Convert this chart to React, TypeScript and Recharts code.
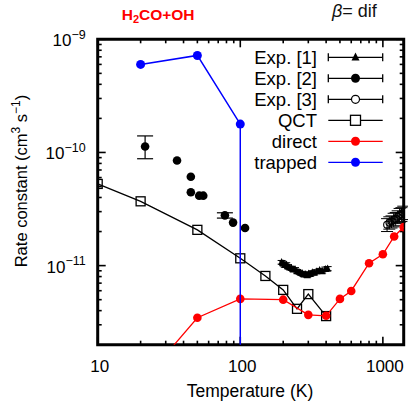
import React from 'react'
import { ComposedChart, Scatter, XAxis, YAxis, ErrorBar, Customized, ReferenceArea, ReferenceDot } from 'recharts'

// Exp. [1] (filled triangles)
const exp1T = [195, 200, 205, 210, 216, 222, 228, 235, 242, 250, 258, 265, 272, 280, 288, 295, 302, 310, 320, 330, 345, 360, 375, 395, 410]
const exp1K = [1.07e-11, 1.04e-11, 1.01e-11, 1.02e-11, 9.8e-12, 9.6e-12, 9.5e-12, 9.2e-12, 9.3e-12, 8.9e-12, 8.8e-12, 8.6e-12, 8.5e-12, 8.3e-12, 8.4e-12, 8.2e-12, 8.5e-12, 8.4e-12, 8.7e-12, 8.6e-12, 8.9e-12, 9.1e-12, 8.9e-12, 9.3e-12, 9.4e-12]
const exp1Err = [4e-13, 4e-13, 4e-13, 4e-13, 4e-13, 3e-13, 3e-13, 3e-13, 3e-13, 3e-13, 3e-13, 3e-13, 3e-13, 3e-13, 3e-13, 3e-13, 3e-13, 3e-13, 3e-13, 3e-13, 3e-13, 3e-13, 3e-13, 4e-13, 4e-13]

// Exp. [2] (filled circles)
const exp2T = [21.5, 36, 45, 45, 51.5, 55, 78, 89, 108]
const exp2K = [1.13e-10, 8.5e-11, 6.1e-11, 4.45e-11, 4.15e-11, 4.15e-11, 2.78e-11, 2.4e-11, 2.15e-11]
const exp2Err = [[2.5e-11, 2.7e-11], 0, 0, 0, 0, 0, [1.5e-12, 1.5e-12], 0, 0]

// Exp. [3] (open circles)
const exp3T = [1070, 1110, 1150, 1190, 1230, 1270, 1310, 1350, 1390]
const exp3K = [2.3e-11, 2.4e-11, 2.45e-11, 2.55e-11, 2.6e-11, 2.7e-11, 2.8e-11, 2.85e-11, 2.95e-11]
const exp3Err = [3e-12, 3e-12, 3e-12, 3.5e-12, 3.5e-12, 3.5e-12, 4e-12, 4e-12, 4e-12]

// QCT (open squares)
const qctT = [10, 20, 50, 100, 150, 200, 250, 300, 400]
const qctK = [5.27e-11, 3.7e-11, 2.07e-11, 1.16e-11, 8.1e-12, 6.1e-12, 4.15e-12, 5.6e-12, 3.58e-12]

// direct (red)
const directT = [20, 50, 100, 200, 300, 400, 500, 600, 800, 1000, 1200, 1400]
const directK = [9e-13, 3.46e-12, 5.08e-12, 5.0e-12, 3.67e-12, 3.6e-12, 5.08e-12, 5.97e-12, 1.05e-11, 1.26e-11, 1.81e-11, 2.19e-11]

// trapped (blue)
const trappedT = [20, 50, 100, 100]
const trappedK = [6.0e-10, 7.2e-10, 1.78e-10, 1e-13]

// axes
const X_DOMAIN = [10, 1400]
const Y_DOMAIN = [2e-12, 1e-9]
const xMajor = [10, 100, 1000]
const xMinor = [20, 30, 40, 50, 60, 70, 80, 90, 200, 300, 400, 500, 600, 700, 800, 900]
const xTickLabels = ['10', '100', '1000']
const yMajor = [1e-11, 1e-10, 1e-9]
const yMinor = [3e-12, 4e-12, 5e-12, 6e-12, 7e-12, 8e-12, 9e-12, 2e-11, 3e-11, 4e-11, 5e-11, 6e-11, 7e-11, 8e-11, 9e-11, 2e-10, 3e-10, 4e-10, 5e-10, 6e-10, 7e-10, 8e-10, 9e-10]
const yExpLabels = ['\u221211', '\u221210', '\u22129']

const legendNames = ['Exp. [1]', 'Exp. [2]', 'Exp. [3]', 'QCT', 'direct', 'trapped']

const FONT = '"Liberation Sans", Arial, Helvetica, sans-serif'

const exp1 = exp1T.map((T, i) => ({ T, k: exp1K[i], err: exp1Err[i] }))
const exp2 = exp2T.map((T, i) => ({ T, k: exp2K[i], err: exp2Err[i] }))
const exp3 = exp3T.map((T, i) => ({ T, k: exp3K[i], err: exp3Err[i] }))
const qct = qctT.map((T, i) => ({ T, k: qctK[i] }))
const direct = directT.map((T, i) => ({ T, k: directK[i] }))
const trapped = trappedT.map((T, i) => ({ T, k: trappedK[i] }))

const tri = (cx: number, cy: number, s: number) =>
  `${cx},${cy - s * 0.6} ${cx - s / 2},${cy + s * 0.4} ${cx + s / 2},${cy + s * 0.4}`

const Triangle = (p: any) => <polygon points={tri(p.cx, p.cy, 7)} fill="#000" />
const Dot = (p: any) => <circle cx={p.cx} cy={p.cy} r={4.3} fill="#000" />
const OpenDot = (p: any) => <circle cx={p.cx} cy={p.cy} r={3.4} fill="none" stroke="#000" strokeWidth={1.1} />
const Square = (p: any) => <rect x={p.cx - 4.5} y={p.cy - 4.5} width={9} height={9} fill="none" stroke="#000" strokeWidth={1.3} />
const RedDot = (p: any) => <circle cx={p.cx} cy={p.cy} r={4.3} fill="#f00" />
const BlueDot = (p: any) => <circle cx={p.cx} cy={p.cy} r={4.5} fill="#00f" />

// inward tick marks, drawn at positions from the chart's own scales
const tickMark = (dx: number, dy: number) => (p: any) => (
  <line x1={p.cx} y1={p.cy} x2={p.cx + dx} y2={p.cy + dy} stroke="#000" strokeWidth={1.6} />
)

const BottomLabel = (p: any) => {
  const i = xMajor.indexOf(p.payload.value)
  return (
    <text x={p.x + 2} y={p.y + 27.6} textAnchor="middle" fontSize={17} fontFamily={FONT} fill="#000">
      {xTickLabels[i]}
    </text>
  )
}

const LeftLabel = (p: any) => {
  const i = yMajor.indexOf(p.payload.value)
  return (
    <text x={p.x - 12} y={p.y + 7} textAnchor="end" fontSize={17} fontFamily={FONT} fill="#000">
      <tspan>10</tspan>
      <tspan dy={-7.5} fontSize={12.5}>{yExpLabels[i]}</tspan>
    </text>
  )
}

const legendMarker = (i: number, cx: number, cy: number) => {
  if (i === 0) return <polygon points={tri(cx, cy, 8)} fill="#000" />
  if (i === 1) return <circle cx={cx} cy={cy} r={4.5} fill="#000" />
  if (i === 2) return <circle cx={cx} cy={cy} r={4} fill="#fff" stroke="#000" strokeWidth={1.2} />
  if (i === 3) return <rect x={cx - 5} y={cy - 5} width={10} height={10} fill="#fff" stroke="#000" strokeWidth={1.3} />
  if (i === 4) return <circle cx={cx} cy={cy} r={4.5} fill="#f00" />
  return <circle cx={cx} cy={cy} r={4.5} fill="#00f" />
}

const legendColors = ['#000', '#000', '#000', '#000', '#f00', '#00f']

const Overlay = () => (
  <g fontFamily={FONT}>
    <text x={121.7} y={20} fill="#f00" fontWeight="bold" fontSize={15.5}>
      H<tspan fontSize={11} dy={3}>2</tspan>
      <tspan dy={-3}>CO+OH</tspan>
    </text>
    <text x={332} y={17} fontSize={18} fill="#111">
      <tspan fontStyle="italic">β</tspan>= dif
    </text>
    <text x={250} y={396.7} textAnchor="middle" fontSize={17.5} fill="#000">
      Temperature (K)
    </text>
    <text x={27} y={181} transform="rotate(-90, 27, 181)" textAnchor="middle" fontSize={16.5} fill="#000">
      Rate constant (cm<tspan dy={-7} fontSize={12}>3</tspan>
      <tspan dy={7}> s</tspan>
      <tspan dy={-7} fontSize={12}>{'\u22121'}</tspan>
      <tspan dy={7}>)</tspan>
    </text>
    {legendNames.map((name, i) => {
      const y = 57.3 + i * 21
      return (
        <g key={name}>
          <text x={317} y={y + 6.8} textAnchor="end" fontSize={18.5} fill="#000">
            {name}
          </text>
          <line x1={328.3} x2={382.7} y1={y} y2={y} stroke={legendColors[i]} strokeWidth={1.3} />
          {i < 3 && (
            <>
              <line x1={328.3} x2={328.3} y1={y - 4} y2={y + 4} stroke="#000" strokeWidth={1.3} />
              <line x1={382.7} x2={382.7} y1={y - 4} y2={y + 4} stroke="#000" strokeWidth={1.3} />
            </>
          )}
          {legendMarker(i, 355.5, y)}
        </g>
      )
    })}
  </g>
)

const axisIds = { xAxisId: 'b', yAxisId: 'l' }

export default function App() {
  const xTickMarks = [...xMajor.map((v) => [v, 8]), ...xMinor.map((v) => [v, 4])]
  const yTickMarks = [...yMajor.map((v) => [v, 8]), ...yMinor.map((v) => [v, 4])]
  return (
    <div style={{ position: 'absolute', left: 0, top: 0, width: 408, height: 403, background: '#fff' }}>
      <ComposedChart width={408} height={403} margin={{ top: 39.3, right: 4.3, bottom: 0, left: 0 }}>
        <XAxis
          xAxisId="b"
          dataKey="T"
          type="number"
          scale="log"
          domain={X_DOMAIN}
          allowDataOverflow
          ticks={xMajor}
          interval={0}
          tick={BottomLabel}
          tickLine={false}
          tickSize={0}
          tickMargin={0}
          height={58.3}
          axisLine={false}
        />
        <YAxis
          yAxisId="l"
          dataKey="k"
          type="number"
          scale="log"
          domain={Y_DOMAIN}
          allowDataOverflow
          ticks={yMajor}
          interval={0}
          tick={LeftLabel}
          tickLine={false}
          tickSize={0}
          tickMargin={0}
          width={97.7}
          axisLine={false}
        />
        {xTickMarks.map(([v, len]) => (
          <ReferenceDot key={`xb${v}`} {...axisIds} x={v} y={Y_DOMAIN[0]} ifOverflow="visible" shape={tickMark(0, -len)} />
        ))}
        {xTickMarks.map(([v, len]) => (
          <ReferenceDot key={`xt${v}`} {...axisIds} x={v} y={Y_DOMAIN[1]} ifOverflow="visible" shape={tickMark(0, len)} />
        ))}
        {yTickMarks.map(([v, len]) => (
          <ReferenceDot key={`yl${v}`} {...axisIds} x={X_DOMAIN[0]} y={v} ifOverflow="visible" shape={tickMark(len, 0)} />
        ))}
        {yTickMarks.map(([v, len]) => (
          <ReferenceDot key={`yr${v}`} {...axisIds} x={X_DOMAIN[1]} y={v} ifOverflow="visible" shape={tickMark(-len, 0)} />
        ))}
        <Scatter {...axisIds} data={exp1} shape={Triangle} isAnimationActive={false}>
          <ErrorBar dataKey="err" direction="y" width={4} stroke="#000" strokeWidth={1} isAnimationActive={false} />
        </Scatter>
        <Scatter {...axisIds} data={exp2} shape={Dot} isAnimationActive={false}>
          <ErrorBar dataKey="err" direction="y" width={8} stroke="#000" strokeWidth={1.2} isAnimationActive={false} />
        </Scatter>
        <Scatter {...axisIds} data={exp3} shape={OpenDot} isAnimationActive={false}>
          <ErrorBar dataKey="err" direction="y" width={6} stroke="#000" strokeWidth={1} isAnimationActive={false} />
        </Scatter>
        <Scatter {...axisIds} data={qct} shape={Square} line={{ stroke: '#000', strokeWidth: 1.3 }} isAnimationActive={false} />
        <Scatter {...axisIds} data={direct} shape={RedDot} line={{ stroke: '#f00', strokeWidth: 1.3 }} isAnimationActive={false} />
        <Scatter {...axisIds} data={trapped} shape={BlueDot} line={{ stroke: '#00f', strokeWidth: 1.5 }} isAnimationActive={false} />
        <ReferenceArea
          {...axisIds}
          x1={X_DOMAIN[0]}
          x2={X_DOMAIN[1]}
          y1={Y_DOMAIN[0]}
          y2={Y_DOMAIN[1]}
          ifOverflow="visible"
          fill="none"
          fillOpacity={0}
          stroke="#000"
          strokeWidth={3}
          strokeOpacity={1}
        />
        <Customized component={Overlay} />
      </ComposedChart>
    </div>
  )
}
